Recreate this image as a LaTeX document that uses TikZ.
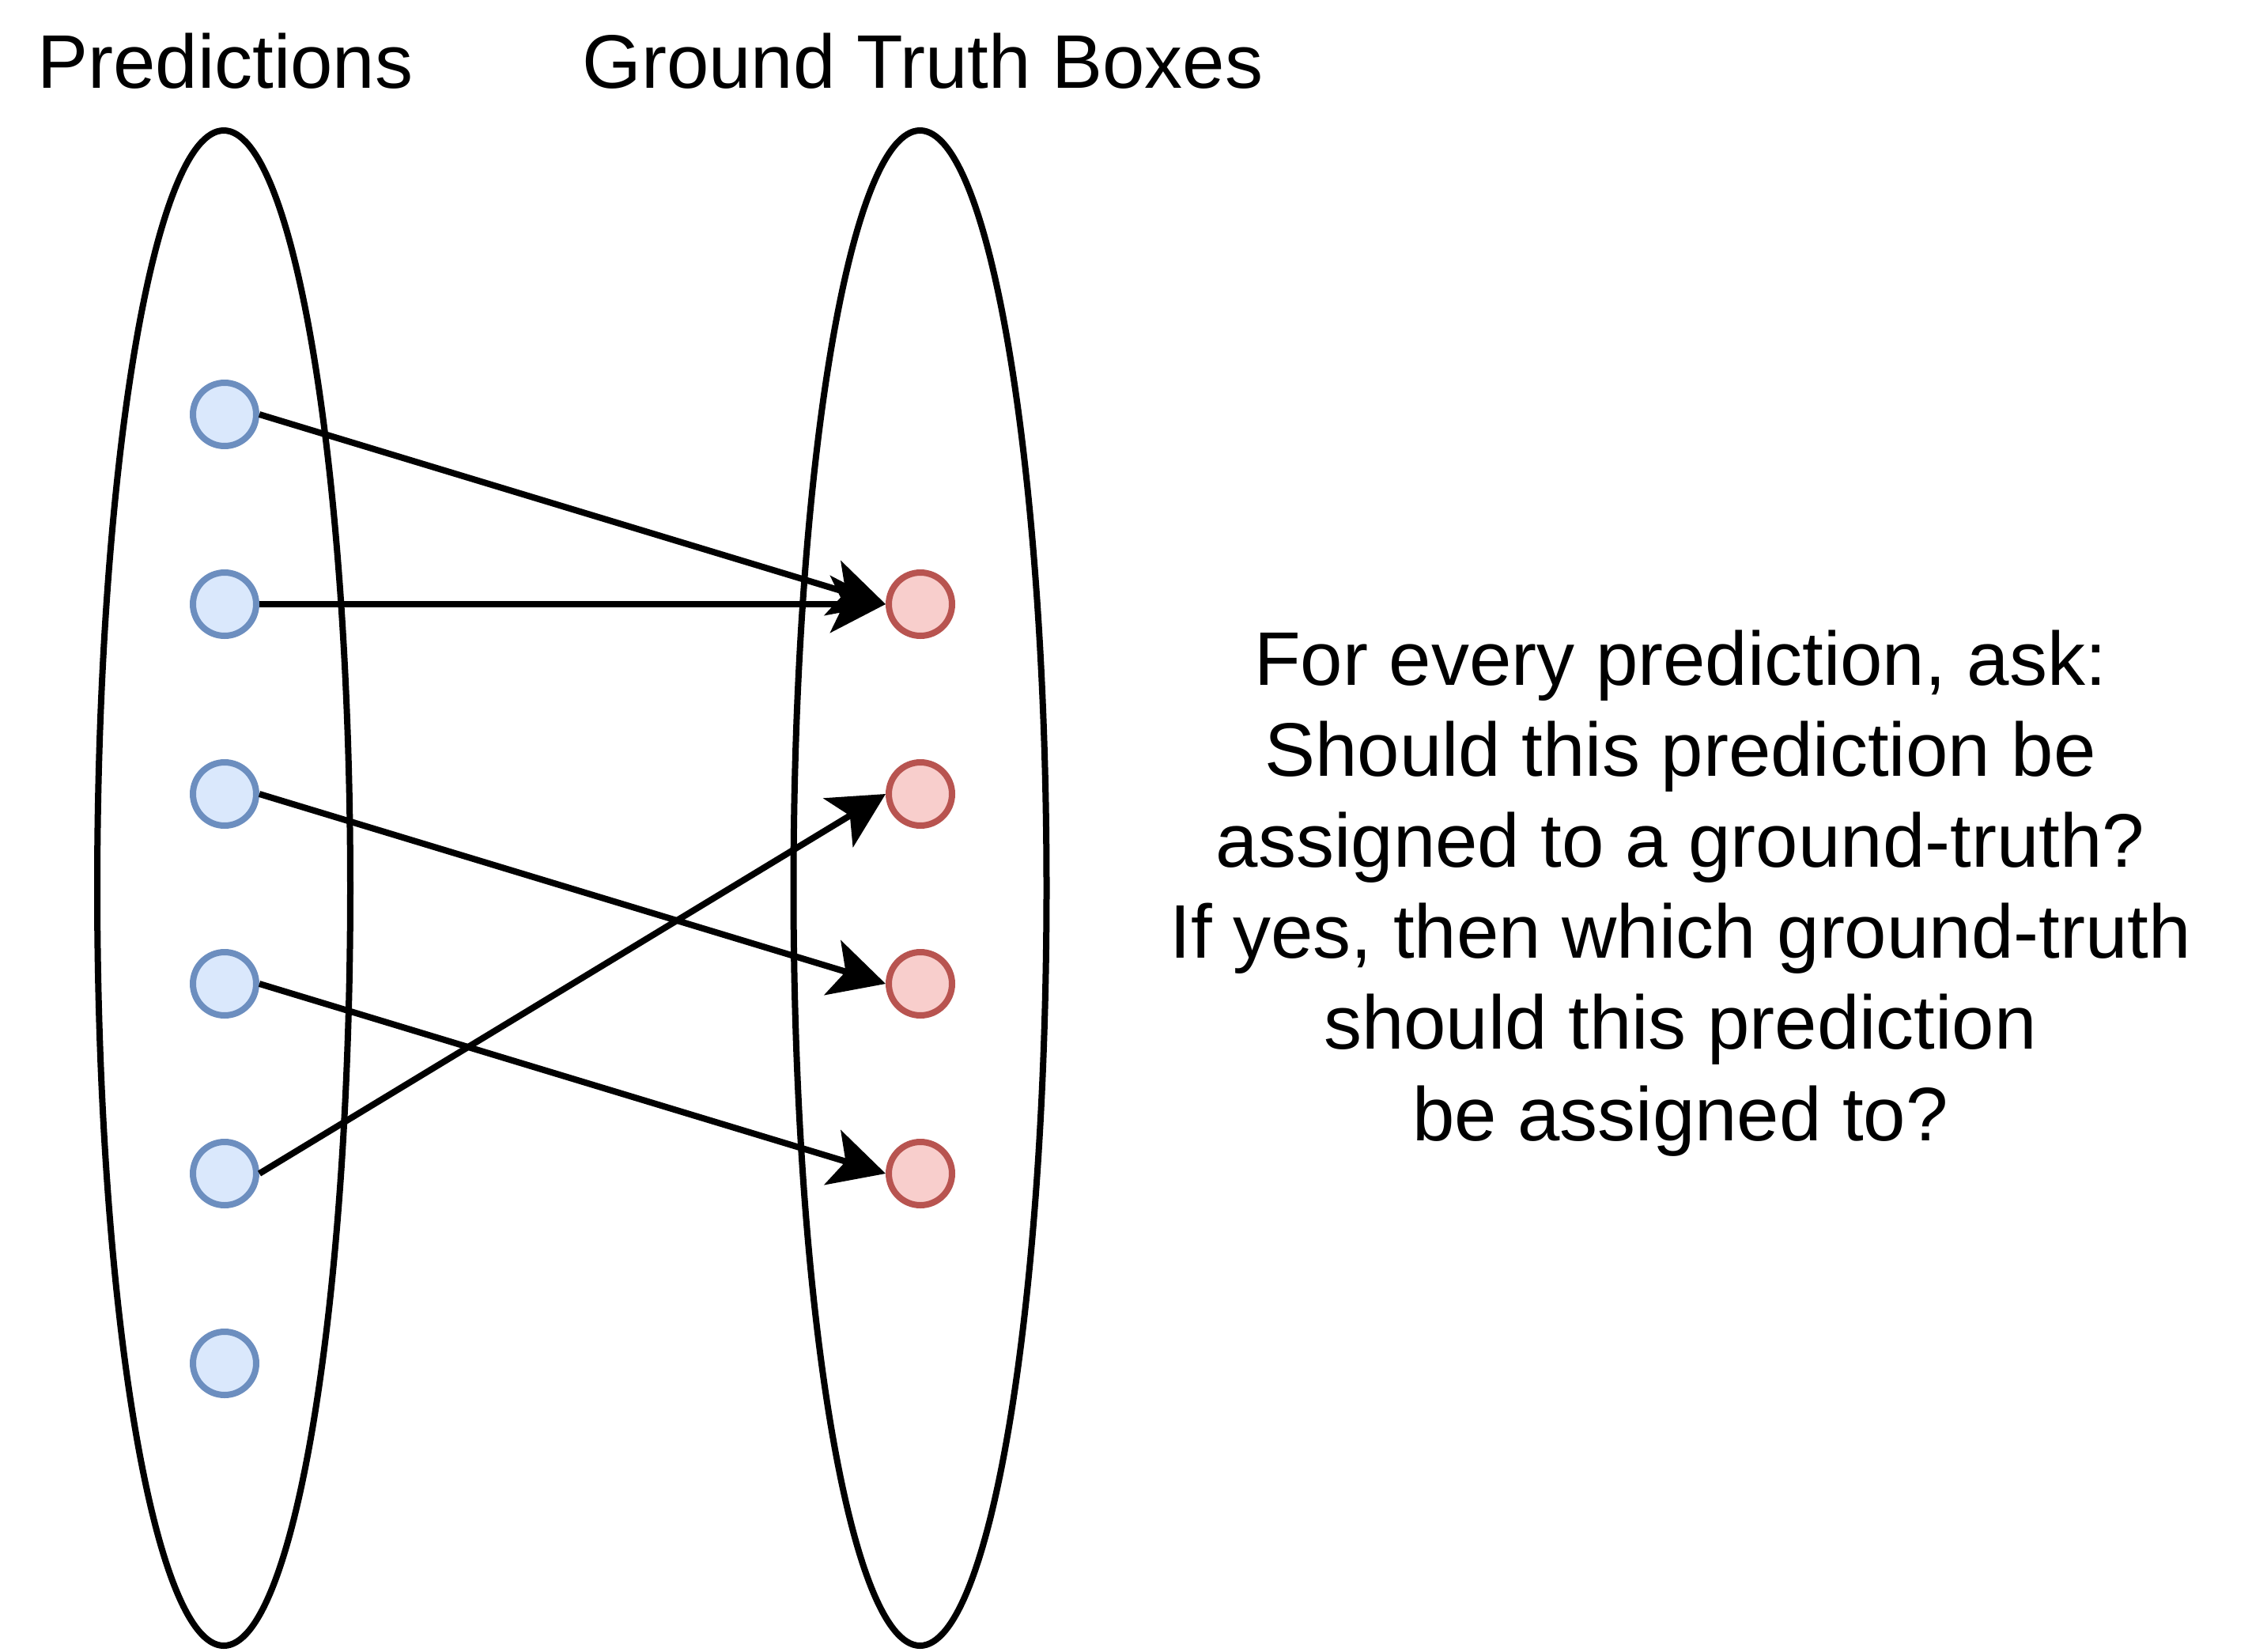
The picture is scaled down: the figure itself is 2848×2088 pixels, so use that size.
\documentclass[tikz,border=0pt]{standalone}
\usepackage{fontspec}
\setmainfont{Liberation Sans}
\usetikzlibrary{shapes.geometric,arrows.meta}
\definecolor{pfill}{HTML}{DAE8FC}
\definecolor{pdraw}{HTML}{6C8EBF}
\definecolor{gfill}{HTML}{F8CECC}
\definecolor{gdraw}{HTML}{B85450}
\tikzset{
  setshape/.style={ellipse, draw=black, line width=2pt, inner sep=0pt,
    minimum width=80pt, minimum height=479pt},
  preddot/.style={circle, draw=pdraw, fill=pfill, line width=2pt, inner sep=0pt, minimum size=20pt},
  gtdot/.style={circle, draw=gdraw, fill=gfill, line width=2pt, inner sep=0pt, minimum size=20pt},
  title/.style={anchor=base, inner sep=0pt, font=\fontsize{24pt}{28.8pt}\selectfont},
  match/.style={draw=black, line width=2pt, -{Stealth[length=17.5pt, width=18pt, inset=4.3pt]}},
}
\begin{document}
\begin{tikzpicture}[x=0.25pt, y=-0.25pt]
\useasboundingbox (0,0) rectangle (2848,2088);
\node[setshape] (lset) at (283,1123) {};
\node[setshape] (rset) at (1163.5,1123) {};
\node[title] (ltitle) at (285,111) {Predictions};
\node[title] (rtitle) at (1167,111) {Ground Truth Boxes};
\foreach \i/\y in {1/524,2/764,3/1004,4/1244,5/1484,6/1724}
  \node[preddot] (p\i) at (284,\y) {};
\foreach \i/\y in {1/764,2/1004,3/1244,4/1484}
  \node[gtdot] (g\i) at (1164,\y) {};
\draw[match] (p1.east) -- (g1.west);
\draw[match] (p2.east) -- (g1.west);
\draw[match] (p3.east) -- (g3.west);
\draw[match] (p4.east) -- (g4.west);
\draw[match] (p5.east) -- (g2.west);
\node[title, align=center] (question) at (2125,1442) {For every prediction, ask:\\Should this prediction be\\assigned to a ground-truth?\\If yes, then which ground-truth\\should this prediction\\be assigned to?};
\end{tikzpicture}
\end{document}
